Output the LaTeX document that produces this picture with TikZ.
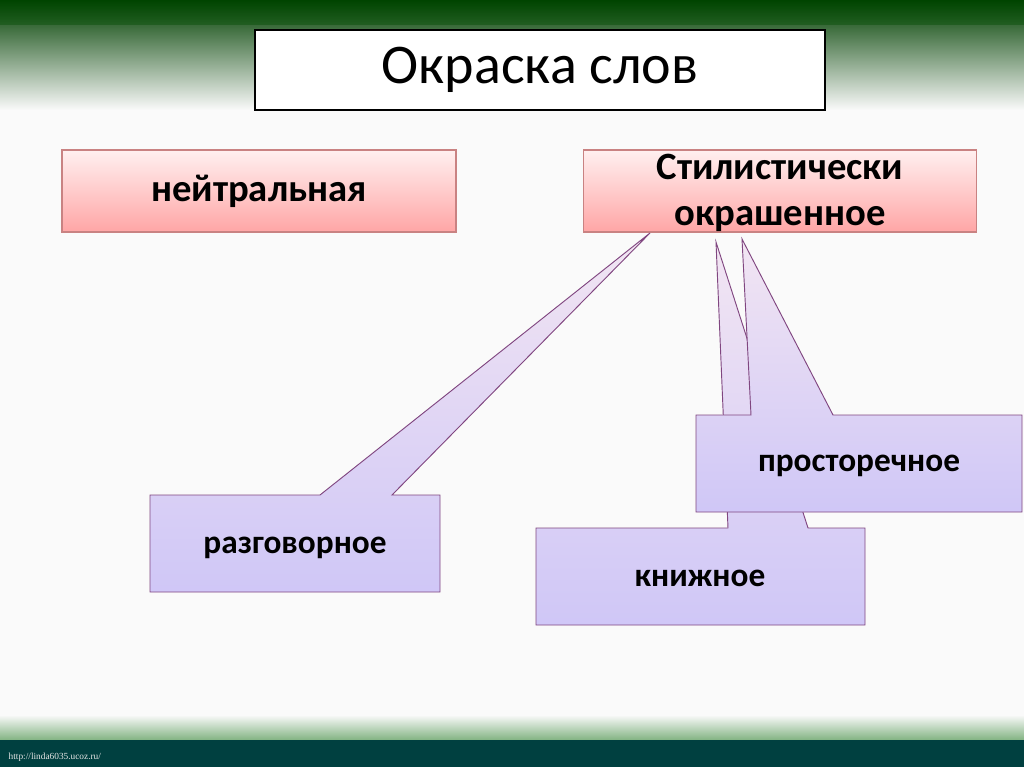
\documentclass[tikz,border=0pt]{standalone}
\usepackage{fontspec}
\setmainfont{Carlito}
\newfontfamily\footfont{Liberation Serif}
\begin{document}
\begin{tikzpicture}[x=0.75pt,y=-0.75pt,
  pinkbox/.style={draw=red!40!gray!70, top color=red!6, bottom color=red!25!pink!80, line width=0.8pt},
  callout/.style={draw=violet!45!gray, top color=violet!10, bottom color=violet!30!blue!22, line width=0.7pt},
  lbl/.style={font=\bfseries\fontsize{29}{34}\selectfont, align=center},
  clbl/.style={font=\bfseries\fontsize{25}{30}\selectfont}]
\useasboundingbox (0,0) rectangle (1024,767);
% background
\fill[gray!4] (0,0) rectangle (1024,767);
\shade[top color=green!25!black, bottom color=gray!4] (0,0) rectangle (1024,110);
\fill[green!30!black, opacity=0.4] (0,0) rectangle (1024,25);
\shade[top color=gray!4, bottom color=green!40!black] (0,715) rectangle (1024,767);
\fill[teal!50!black] (0,740) rectangle (1024,767);
\node[anchor=west, text=white!80!gray, font=\footfont\fontsize{7}{8}\selectfont] (foot) at (4,757) {http://linda6035.ucoz.ru/};
% title
\node[draw=black, fill=white, line width=1.5pt, minimum width=570*0.75pt, minimum height=80*0.75pt,
  font=\fontsize{42}{48}\selectfont] (title) at (540,70) {Окраска слов};
% pink boxes
\node[pinkbox, lbl, minimum width=394*0.75pt, minimum height=82*0.75pt] (neu) at (259,191) {нейтральная};
\node[pinkbox, minimum width=393*0.75pt, minimum height=82*0.75pt] (sty) at (780,191) {};
\node[lbl, font=\bfseries\fontsize{29}{34}\selectfont] (styt) at (780,193) {Стилистически\\окрашенное};
% knizhnoe callout (behind)
\draw[callout] (536,528) -- (728,528) -- (716,242) -- (808,528) -- (865,528) -- (865,625) -- (536,625) -- cycle;
\node[clbl] (kn) at (700,578) {книжное};
% prostorechnoe callout
\draw[callout] (696,415) -- (751,415) -- (742,239) -- (833,415) -- (1022,415) -- (1022,512) -- (696,512) -- cycle;
\node[clbl] (pr) at (859,466) {просторечное};
% razgovornoe callout
\draw[callout] (150,495) -- (320,495) -- (650,233) -- (392,495) -- (440,495) -- (440,592) -- (150,592) -- cycle;
\node[clbl] (rz) at (295,548) {разговорное};
\end{tikzpicture}
\end{document}
